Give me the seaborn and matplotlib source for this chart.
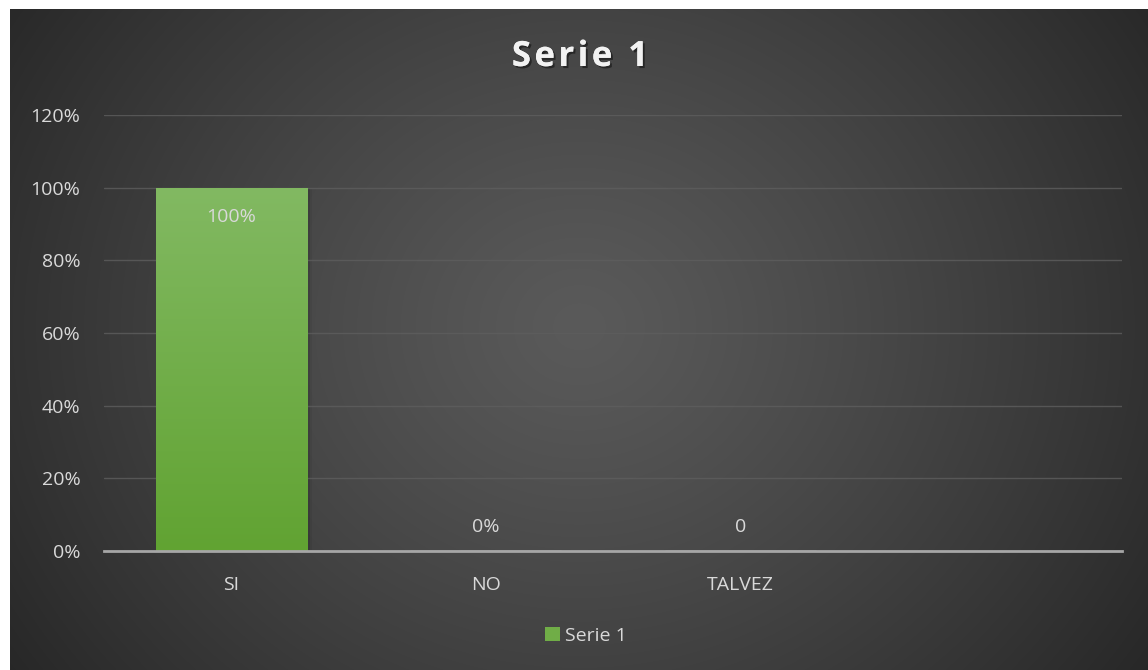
import numpy as np
import pandas as pd
import matplotlib
matplotlib.use("Agg")
import matplotlib.pyplot as plt
import matplotlib.patheffects as pe
from matplotlib.colors import LinearSegmentedColormap
import seaborn as sns

# ---- data ----
categories = ["SI", "NO", "TALVEZ", ""]
values = [1.0, 0.0, 0.0, np.nan]
value_labels = ["100%", "0%", "0", ""]
yticks = [0, 0.2, 0.4, 0.6, 0.8, 1.0, 1.2]
ytick_labels = ["0%", "20%", "40%", "60%", "80%", "100%", "120%"]
series_name = "Serie 1"
title = "Serie 1"

sns.set_theme(style="white")
plt.rcParams["font.family"] = ["Open Sans", "DejaVu Sans"]

W, H = 1148, 670
fig = plt.figure(figsize=(W / 100, H / 100), dpi=100)
fig.patch.set_facecolor("white")

# ---- dark radial background ----
bx0, by0 = 10, 9
bg = fig.add_axes([bx0 / W, 0, (W - bx0) / W, (H - by0) / H], zorder=0)
gw, gh = W - bx0, H - by0
yy, xx = np.mgrid[0:gh, 0:gw]
cx, cy = gw * 0.50, gh * 0.48
r = np.sqrt(((xx - cx) / (gw * 0.62)) ** 2 + ((yy - cy) / (gh * 0.95)) ** 2)
r = np.clip(r, 0, 1)
inner, outer = 0x5a / 255, 0x26 / 255
val = inner - (inner - outer) * r ** 1.2
img = np.dstack([val, val, val])
bg.imshow(img, aspect="auto", extent=[0, 1, 0, 1], origin="upper")
bg.set_axis_off()

# ---- main axes ----
left, right = 104 / W, 1122 / W
bottom = (H - 551) / H
top = (H - 115) / H
ax = fig.add_axes([left, bottom, right - left, top - bottom], zorder=2)
ax.patch.set_alpha(0)

df = pd.DataFrame({"cat": categories, "val": values})
sns.barplot(data=df, x="cat", y="val", order=categories, color="#70ad47",
            width=0.595, ax=ax, saturation=1, errorbar=None, label=series_name)

ax.set_ylim(0, 1.2)
ax.set_xlim(-0.5, len(categories) - 0.5)
ax.set_yticks(yticks)
ax.set_yticklabels(ytick_labels)
ax.set_xlabel("")
ax.set_ylabel("")
ax.tick_params(axis="both", colors="#d9d9d9", labelsize=14, length=0)
ax.tick_params(axis="y", pad=17)
ax.tick_params(axis="x", pad=18)
for lab in ax.get_xticklabels() + ax.get_yticklabels():
    lab.set_color("#d9d9d9")

ax.grid(axis="y", color="#5e5e5e", linewidth=1.0, alpha=0.8)
ax.set_axisbelow(True)
for s in ["top", "right", "left"]:
    ax.spines[s].set_visible(False)
ax.spines["bottom"].set_color("#a6a6a6")
ax.spines["bottom"].set_linewidth(2)
ax.spines["bottom"].set_zorder(5)

# gradient fill on bars
cmap = LinearSegmentedColormap.from_list("g", ["#61a332", "#82b962"])
grad = np.linspace(0, 1, 256).reshape(-1, 1)
for p in ax.patches:
    h = p.get_height()
    if np.isfinite(h) and h > 0:
        x0 = p.get_x()
        w = p.get_width()
        # soft shadow
        for k, a in [(0.004, 0.12), (0.010, 0.08), (0.018, 0.05)]:
            sh = plt.Rectangle((x0 + k, -0.005), w, h + 0.002, facecolor="black", alpha=a,
                               zorder=p.get_zorder() - 0.5, linewidth=0)
            ax.add_patch(sh)
        im = ax.imshow(grad, cmap=cmap, aspect="auto", origin="lower",
                       extent=[x0, x0 + w, 0, h], zorder=p.get_zorder() + 0.1)
        im.set_clip_path(p)
        p.set_edgecolor("none")

# data labels
for i, (v, t) in enumerate(zip(values, value_labels)):
    if not t:
        continue
    if v > 0.5:
        ax.annotate(t, (i, v), xytext=(0, -21), textcoords="offset points",
                    ha="center", va="center", color="#d9d9d9", fontsize=14, zorder=10)
    else:
        ax.annotate(t, (i, v), xytext=(0, 17), textcoords="offset points",
                    ha="center", va="center", color="#d9d9d9", fontsize=14, zorder=10)

# title (letter-spaced)
spaced_title = "\u200a".join(title)
fig.text(580 / W, 1 - 57 / H, spaced_title, ha="center", va="center", fontsize=25,
         fontweight="bold", color="#f2f2f2", zorder=10,
         path_effects=[pe.withSimplePatchShadow(offset=(1.5, -1.5), shadow_rgbFace="black", alpha=0.45),
                       pe.Normal()])

# legend
leg = ax.legend(loc="center", bbox_to_anchor=(586 / W, 1 - 636 / H),
                bbox_transform=fig.transFigure, frameon=False, fontsize=14,
                handlelength=0.75, handleheight=0.75, handletextpad=0.25)
for t in leg.get_texts():
    t.set_color("#d9d9d9")
for hdl in leg.legend_handles:
    hdl.set_facecolor("#70ad47")
    hdl.set_edgecolor("none")

fig.savefig("out.png", dpi=100)
